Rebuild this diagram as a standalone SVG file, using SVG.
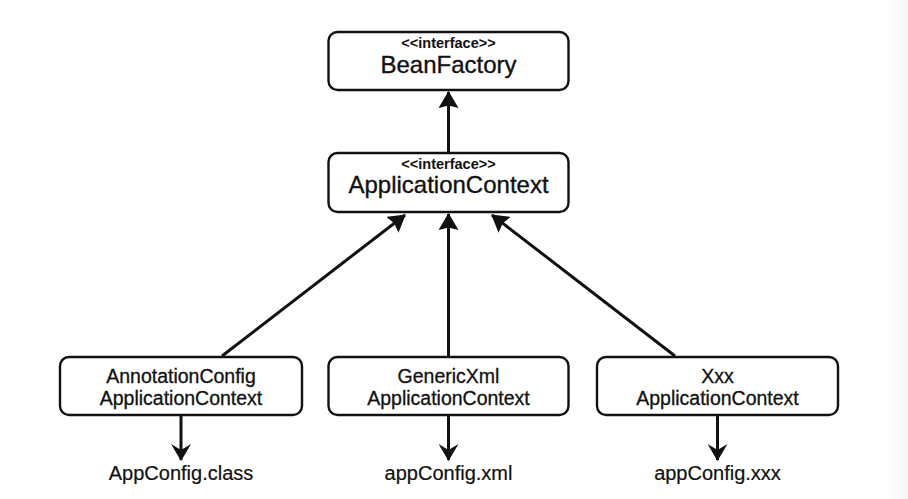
<svg xmlns="http://www.w3.org/2000/svg" width="908" height="499" viewBox="0 0 908 499">
  <defs>
    <linearGradient id="edge" x1="0" y1="0" x2="1" y2="0">
      <stop offset="0" stop-color="#ffffff"/>
      <stop offset="1" stop-color="#f6f6f6"/>
    </linearGradient>
    <marker id="headUp" viewBox="0 0 17 20" refX="16" refY="10" markerWidth="17" markerHeight="20" markerUnits="userSpaceOnUse" orient="auto">
      <path d="M0,0 L17,10 L0,20 L2.5,10 Z" fill="#111"/>
    </marker>
    <marker id="headDown" viewBox="0 0 17 20" refX="16" refY="10" markerWidth="17" markerHeight="20" markerUnits="userSpaceOnUse" orient="auto">
      <path d="M0,0 L17,10 L0,20 L6,10 Z" fill="#111"/>
    </marker>
  </defs>
  <style>
    .box { fill: #ffffff; stroke: #111; stroke-width: 2.4; }
    .stereo { font-family: "Liberation Sans", Arial, sans-serif; font-size: 14.5px; font-weight: bold; fill: #111; text-anchor: middle; }
    .big { font-family: "Liberation Sans", Arial, sans-serif; font-size: 24px; fill: #111; stroke: #111; stroke-width: 0.35; text-anchor: middle; }
    .mid { font-family: "Liberation Sans", Arial, sans-serif; font-size: 19.5px; fill: #111; stroke: #111; stroke-width: 0.3; text-anchor: middle; }
    .lbl { font-family: "Liberation Sans", Arial, sans-serif; font-size: 20px; fill: #111; stroke: #111; stroke-width: 0.2; text-anchor: middle; }
    .up { fill: none; stroke: #111; stroke-width: 3; marker-end: url(#headUp); }
    .down { fill: none; stroke: #111; stroke-width: 3; marker-end: url(#headDown); }
  </style>
  <rect x="0" y="0" width="908" height="499" fill="#ffffff"/>
  <rect x="884" y="0" width="24" height="499" fill="url(#edge)"/>

  <g id="connectors">
    <path class="up" d="M448.5,153 L448.5,92"/>
    <path class="up" d="M222,356 L405,215"/>
    <path class="up" d="M448.5,356 L448.5,214"/>
    <path class="up" d="M675,356 L492,215"/>
    <path class="down" d="M181,416 L181,460"/>
    <path class="down" d="M448.5,416 L448.5,460"/>
    <path class="down" d="M717.5,416 L717.5,460"/>
  </g>

  <g id="beanFactory">
    <rect class="box" x="328.5" y="32" width="240" height="58" rx="9"/>
    <text class="stereo" x="448.5" y="48">&lt;&lt;interface&gt;&gt;</text>
    <text class="big" x="448.5" y="73">BeanFactory</text>
  </g>

  <g id="applicationContext">
    <rect class="box" x="328.5" y="153" width="240" height="59" rx="9"/>
    <text class="stereo" x="448.5" y="169">&lt;&lt;interface&gt;&gt;</text>
    <text class="big" x="448.5" y="193">ApplicationContext</text>
  </g>

  <g id="annotationConfig">
    <rect class="box" x="60" y="357" width="242" height="58" rx="9"/>
    <text class="mid" x="181" y="383">AnnotationConfig</text>
    <text class="mid" x="181" y="405">ApplicationContext</text>
  </g>

  <g id="genericXml">
    <rect class="box" x="328.5" y="357" width="240" height="58" rx="9"/>
    <text class="mid" x="448.5" y="383">GenericXml</text>
    <text class="mid" x="448.5" y="405">ApplicationContext</text>
  </g>

  <g id="xxx">
    <rect class="box" x="597" y="357" width="241" height="58" rx="9"/>
    <text class="mid" x="717.5" y="383">Xxx</text>
    <text class="mid" x="717.5" y="405">ApplicationContext</text>
  </g>

  <g id="appConfigClass">
    <text class="lbl" x="181" y="480">AppConfig.class</text>
  </g>
  <g id="appConfigXml">
    <text class="lbl" x="448.5" y="480">appConfig.xml</text>
  </g>
  <g id="appConfigXxx">
    <text class="lbl" x="717.5" y="480">appConfig.xxx</text>
  </g>
</svg>
